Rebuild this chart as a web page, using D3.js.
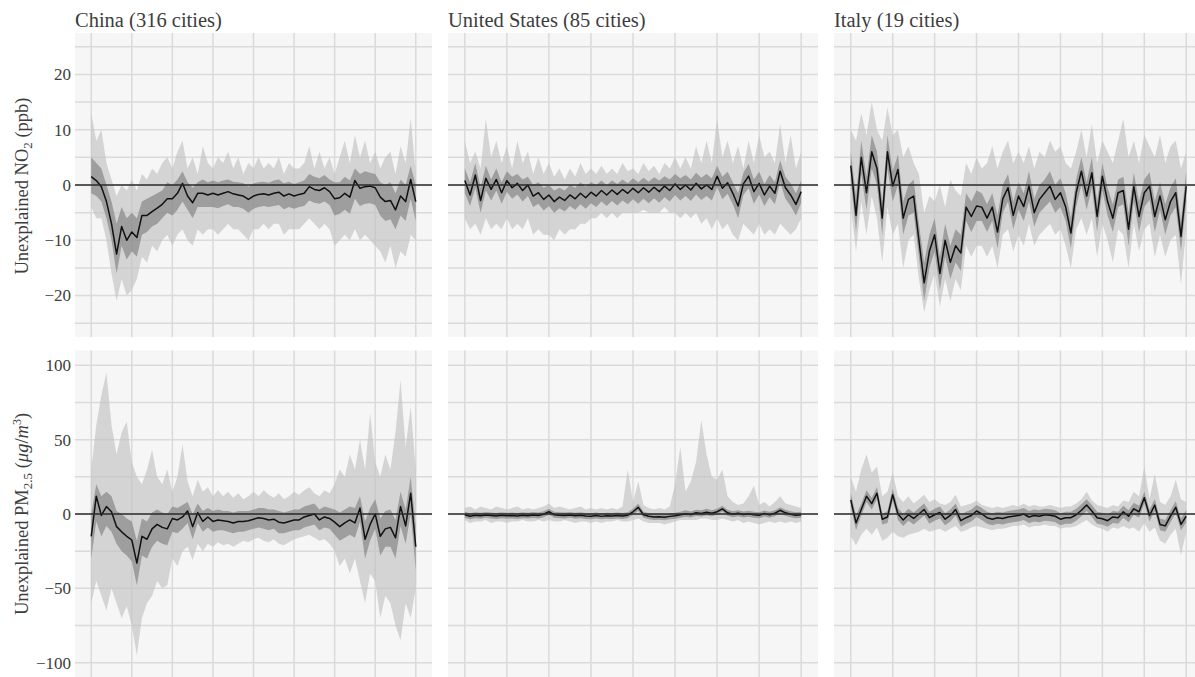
<!DOCTYPE html>
<html>
<head>
<meta charset="utf-8">
<script src="https://cdn.jsdelivr.net/npm/d3@7"></script>
<style>
  body { margin: 0; background: #fff; }
  text { font-family: "Liberation Serif", "DejaVu Serif", serif; fill: #3d3d3d; }
</style>
</head>
<body>
<div id="chart"></div>
<script>
// panel titles and tick labels
const countries = ["China (316 cities)", "United States (85 cities)", "Italy (19 cities)"];
const no2Ticks = [-20, -10, 0, 10, 20];
const pmTicks = [-100, -50, 0, 50, 100];
const no2Grid = [-25, -20, -15, -10, -5, 0, 5, 10, 15, 20, 25];
const pmGrid = [-100, -75, -50, -25, 0, 25, 50, 75, 100];
const timeGrid = [0, 1, 2, 3, 4, 5, 6, 7, 8];

// ---- NO2, China ----
const cnNo2Mean = [1.5,0.8,-0.3,-3,-7,-12.5,-7.5,-10,-8.5,-9.5,-5.5,-5.5,-4.8,-4.2,-3.5,-2.5,-2.5,-1.5,0.3,-2,-3.2,-1.5,-1.5,-1.8,-1.5,-1.8,-1.5,-1.2,-1.6,-1.8,-2,-2.6,-2,-1.7,-1.6,-1.8,-1.5,-1.3,-2,-1.6,-2,-1.7,-1.5,-0.3,-0.8,-1,-0.5,-1.2,-2.5,-2.3,-1.5,-2.2,0.8,-0.6,-0.3,-0.2,-0.5,-2.2,-3,-2.8,-4.5,-2,-3,1,-3];
const cnNo2Hi = [13,8,10,4,1,-2,0,-1,1,-1,2,1,3,2,4,5,3,6,8,3,5,2,7,4,3,5,4,6,3,5,2,4,3,5,3,4,3,5,2,4,3,3,4,7,3,6,3,5,2,5,8,4,9,5,8,4,6,3,5,6,2,7,4,12,2];
const cnNo2Lo = [-4,-6,-6,-10,-16,-21,-17,-20,-19,-17,-13,-14,-11,-12,-10,-9,-11,-9,-8,-10,-11,-8,-9,-8,-8,-9,-8,-7,-8,-8,-9,-10,-8,-8,-7,-8,-7,-7,-9,-8,-8,-8,-7,-6,-7,-8,-7,-8,-11,-10,-9,-10,-8,-10,-9,-10,-11,-12,-14,-11,-15,-12,-13,-9,-10];
const cnNo2InHi = [5,4,3,0,-3,-7,-4,-6,-5,-6,-3,-2.5,-2,-1.5,-1,0.5,0,1,2.5,0.5,-0.5,0.5,1,0.5,0.8,0.5,0.8,1,0.6,0.5,0.3,-0.3,0.3,0.5,0.6,0.4,0.8,1,0.3,0.6,0.2,0.5,0.8,2,1.5,1.2,1.8,1,0.5,0.5,1.5,0.8,3,2,2.5,2.2,2,0.5,0,0.5,-1.5,1,0,3.5,0];
const cnNo2InLo = [-1.5,-2,-3,-6,-10,-16,-11,-13.5,-12,-13,-9,-8.5,-7.5,-7,-6,-5,-5.5,-4.5,-3,-4.5,-6,-4,-4,-4,-4,-4.2,-3.8,-3.5,-4,-4,-4.3,-5,-4.3,-4,-3.8,-4,-3.8,-3.6,-4.4,-4,-4.3,-4,-3.8,-2.8,-3.2,-3.4,-3,-3.6,-5.5,-5.2,-4.5,-5.2,-2.5,-3.8,-3.4,-3.3,-3.6,-5.5,-6.5,-6.2,-8,-5.5,-6.5,-2.5,-6.5];

// ---- NO2, United States ----
const usNo2Mean = [0.8,-1.8,1.8,-2.8,1.2,-0.8,1.0,-1.4,0.8,-0.5,0.3,-1.0,0.0,-2.0,-1.4,-2.6,-1.8,-3.0,-2.2,-2.8,-1.8,-2.5,-1.5,-2.3,-1.3,-2.0,-1.0,-1.8,-0.9,-1.7,-0.8,-1.5,-0.6,-1.4,-0.5,-1.3,-0.4,-1.2,-0.2,-1.0,0.2,-0.8,0.0,-0.9,0.3,-0.7,0.0,-0.8,1.6,-0.6,0.4,-1.5,-3.8,0.2,1.6,-1.2,0.3,-1.8,-0.2,-1.5,2.5,-0.5,-1.8,-3.5,-1.2];
const usNo2Hi = [8,4,6,3,12,5,8,4,7,3,8,4,6,2,5,2,4,1.5,3,1,3,1.5,4,2,3,2,3.5,2,3,2,4,2.5,3,2,4,2.5,3.5,2,4,3,5,3,5,3,7,4,8,4,12,5,8,4,7,3,8,4,9,5,6,4,11,4,9,3,6];
const usNo2Lo = [-6,-8,-7,-9,-6,-8,-7,-8,-6,-8,-7,-8,-6,-9,-8,-9,-9,-10,-8,-9,-8,-8,-7,-7,-6,-6,-5,-6,-5,-6,-5,-5,-5,-5,-4.5,-5,-5,-5,-4,-5,-5,-6,-5,-6,-5,-7,-6,-8,-6,-8,-7,-9,-10,-7,-8,-9,-7,-9,-8,-9,-7,-8,-9,-8,-6];
const usNo2InHi = [3,0.5,4,-0.5,3.5,1,3,0.5,2.5,1.5,2,1,1.5,0,0.5,-0.5,0,-1,-0.5,-1,0,-0.5,0.5,-0.3,0.5,0,0.8,0,0.8,0.2,1,0.3,1.2,0.5,1.3,0.6,1.4,0.8,1.6,1,2,1.2,1.8,1,2.2,1.3,2,1.2,3.5,1.5,2.4,0.5,-1.5,2.2,3.8,1,2.4,0.2,1.8,0.5,4.5,1.5,0.3,-1.5,0.8];
const usNo2InLo = [-1.5,-3.8,-0.5,-5,-1,-2.8,-1,-3.4,-1.2,-2.5,-1.7,-3,-2,-4,-3.4,-4.6,-3.8,-5,-4.2,-4.8,-3.8,-4.5,-3.5,-4.3,-3.3,-4,-3,-3.8,-2.9,-3.7,-2.8,-3.5,-2.6,-3.4,-2.5,-3.3,-2.4,-3.2,-2.2,-3,-1.8,-2.8,-2,-2.9,-1.7,-2.7,-2,-2.8,-0.4,-2.6,-1.6,-3.5,-6,-1.8,-0.6,-3.4,-1.7,-3.8,-2.2,-3.5,0.5,-2.5,-3.8,-5.5,-3.2];

// ---- NO2, Italy ----
const itNo2Mean = [3.5,-5.5,5,-1.4,6,3,-6,6,-0.2,2.8,-6,-2.6,-2,-10,-17.7,-12,-9,-16,-10,-14,-11,-12.3,-4,-5.7,-3.8,-4,-6,-4,-8.5,-2.5,-0.5,-5.5,-2,-3.9,-0.2,-5,-2.6,-1.4,-0.2,-2.6,-1.4,-4,-8.7,-1.4,2.5,-2,2.2,-5.7,1.6,-3,-6,-1.4,-1,-8,-0.3,-5.7,-1.4,-0.2,-5.7,-2,-6.3,-3,-1.4,-9.3,-0.2];
const itNo2Hi = [10,8,13,9,15,10,8,14,9,10,5,7,4,2,-5,-2,-3,0,-4,1,-1,-2,4,2,5,3,4,7,3,6,8,4,6,4,7,3,6,5,8,6,7,4,3,6,10,5,11,4,8,6,4,8,12,5,8,4,9,7,5,9,4,7,8,3,6];
const itNo2Lo = [-4,-12,-3,-9,-2,-6,-14,-4,-9,-7,-15,-10,-9,-17,-23,-19,-16,-22,-17,-21,-17,-19,-11,-13,-11,-11,-13,-11,-15,-9,-8,-12,-9,-11,-7,-11,-9,-8,-7,-9,-8,-11,-15,-8,-6,-9,-6,-13,-7,-10,-14,-8,-9,-15,-7,-12,-8,-7,-13,-9,-13,-10,-9,-18,-8];
const itNo2InHi = [6,-2,8,1.5,9,6,-3,9,2.5,5.5,-3,0,1,-7,-14,-9,-6,-13,-7,-11,-8,-9,-1.5,-3,-1,-1.5,-3.5,-1.5,-5.5,0,2,-3,0.5,-1.5,2.5,-2.5,0,1,2.5,0,1.2,-1.5,-6,1,5,0.5,5,-3,4,-0.5,-3.5,1,1.5,-5,2.2,-3,1,2.3,-3,0.5,-3.5,-0.5,1.2,-6.5,2.5];
const itNo2InLo = [1,-8.5,2,-4.5,3,0,-9,3,-3,0,-9,-5.5,-5,-13,-21,-15,-12,-19,-13,-17,-14,-15.5,-6.5,-8.5,-6.5,-6.5,-8.5,-6.5,-11.5,-5,-3,-8,-4.5,-6.5,-3,-7.5,-5,-4,-3,-5,-4,-6.5,-11.5,-4,0,-4.5,-0.5,-8.5,-1,-5.5,-8.5,-4,-3.5,-11,-3,-8.5,-4,-2.7,-8.5,-4.5,-9,-5.5,-4,-12,-3];

// ---- PM2.5, China ----
const cnPmMean = [-15,12,-1,5,1.5,-8.5,-12,-15,-17.5,-33,-15,-17,-10,-7,-9,-10,-3,-4,-2,2,-8.5,1,-5,-2,-5,-4,-4.5,-5,-6,-5,-5,-4.5,-3.5,-2.5,-3,-4,-3.5,-5.5,-6,-5,-4,-4,-2,-1,0,-4,-2,-3,-5.5,-8.5,-6,-4,-6,4,-17,-7,0,-15,-10,-9,-16,5,-8,14,-22];
const cnPmHi = [30,60,80,95,60,40,55,62,35,25,20,30,43,25,20,30,15,25,47,22,12,23,15,18,12,16,12,15,11,14,10,12,15,12,16,13,11,14,10,12,15,13,16,18,14,12,16,14,20,30,25,40,30,50,30,68,35,25,40,30,55,90,45,72,30];
const cnPmLo = [-60,-45,-55,-65,-50,-60,-70,-62,-75,-95,-70,-60,-55,-45,-50,-48,-30,-35,-25,-22,-31,-20,-25,-20,-22,-19,-21,-20,-22,-20,-18,-19,-17,-16,-18,-19,-17,-20,-21,-19,-17,-16,-15,-14,-16,-18,-17,-20,-25,-35,-30,-40,-30,-45,-60,-40,-45,-70,-55,-60,-75,-85,-60,-70,-50];
const cnPmInHi = [0,20,12,15,12,2,0,-3,-5,-18,-3,-5,1,3,1,0,5,4,6,8,0,7,2,4,2,3,2,2,1,2,2,2,3,4,4,3,3,2,1,2,3,3,5,6,7,3,5,4,3,1,3,5,4,12,-5,4,10,-3,2,3,-4,15,3,25,-8];
const cnPmInLo = [-30,-5,-15,-8,-12,-20,-25,-28,-32,-48,-28,-30,-22,-18,-20,-21,-12,-13,-10,-6,-17,-6,-12,-9,-12,-11,-11,-12,-13,-12,-12,-11,-10,-9,-10,-11,-10,-13,-13,-12,-11,-11,-9,-8,-7,-11,-9,-10,-14,-18,-16,-14,-16,-5,-30,-18,-10,-28,-22,-22,-30,-8,-20,0,-38];

// ---- PM2.5, United States ----
const usPmMean = [-0.5,-1.5,-0.8,-1.2,-0.6,-1,-1.3,-0.8,-1.2,-1,-1.4,-0.9,-1.1,-0.7,-1,-0.2,1.5,-0.5,-0.8,-1,-0.6,-1.2,-0.8,-1.3,-1.5,-1,-1.6,-1.2,-1.4,-1,-1.3,-0.8,1.5,4.5,-0.5,-1.5,-2,-1.8,-2.2,-1.6,-1.2,-0.5,0.2,-0.3,0.8,0.3,1.2,0.5,1.5,3.5,0.8,-0.2,0.5,-0.3,0.2,-0.5,-0.8,0.3,-0.5,0.5,2.5,0.8,-0.2,-0.8,-0.5];
const usPmHi = [4,5,3,5,4,3,5,4,3,4,5,3,4,3,4,5,7,4,5,4,3,4,5,3,4,3,4,3,4,3,5,30,8,22,6,4,3,4,3,5,20,45,15,22,35,63,40,25,23,30,12,8,6,7,12,19,6,8,5,8,12,7,6,5,4];
const usPmLo = [-4,-6,-5,-5,-4,-6,-5,-5,-6,-5,-5,-4,-5,-5,-4,-5,-4,-5,-5,-4,-5,-6,-5,-5,-6,-5,-6,-5,-5,-4,-5,-5,-4,-3,-5,-6,-6,-6,-7,-6,-5,-4,-4,-4,-4,-3,-3,-4,-4,-3,-4,-5,-4,-6,-5,-6,-7,-6,-5,-6,-5,-6,-5,-6,-5];
const usPmInHi = [1.5,0.5,1.2,0.8,1.4,1,0.7,1.2,0.8,1,0.6,1.1,0.9,1.3,1,1.8,3.5,1.5,1.2,1,1.4,0.8,1.2,0.7,0.5,1,0.4,0.8,0.6,1,0.7,1.2,3.5,7,1.5,0.5,0,0.2,-0.2,0.4,0.8,1.5,2.5,1.7,2.8,2.5,3.5,2.5,3.5,5.5,2.8,1.8,2.5,1.7,2.2,1.5,1.2,2.3,1.5,2.5,4.5,2.8,1.8,1.2,1.5];
const usPmInLo = [-2.5,-3.5,-2.8,-3.2,-2.6,-3,-3.3,-2.8,-3.2,-3,-3.4,-2.9,-3.1,-2.7,-3,-2.2,-0.5,-2.5,-2.8,-3,-2.6,-3.2,-2.8,-3.3,-3.5,-3,-3.6,-3.2,-3.4,-3,-3.3,-2.8,-0.5,2,-2.5,-3.5,-4,-3.8,-4.2,-3.6,-3.2,-2.5,-1.8,-2.3,-1.2,-1.7,-0.8,-1.5,-0.5,1.5,-1.2,-2.2,-1.5,-2.3,-1.8,-2.5,-2.8,-1.7,-2.5,-1.5,0.5,-1.2,-2.2,-2.8,-2.5];

// ---- PM2.5, Italy ----
const itPmMean = [9.5,-6,3,12,7,14,-3.5,-2,13,0,-4,-0.5,-3,0,3,-2.5,-0.5,1,-3.5,-1,3,-4.5,-2.5,-1,2,0,-2.5,-3.5,-2.5,-3,-2,-1.5,-1,0,-2,-1,-1.5,-0.5,-0.8,-1.5,-3.5,-2.5,-2.5,-0.5,2.5,6,2,-2.5,-3.2,-4.5,-2,-2.5,1.5,-1.5,3.5,1.5,11,-1,6,-7,-8,-1.5,4.5,-7,-1.5];
const itPmHi = [25,15,30,40,28,32,12,15,28,12,8,12,7,10,13,8,10,7,6,8,13,5,6,7,9,6,5,4,5,4,5,6,5,7,5,6,5,5,6,5,4,5,5,7,10,15,9,6,5,4,6,5,9,8,15,12,32,10,27,8,6,12,23,10,8];
const itPmLo = [-15,-21,-14,-10,-14,-9,-18,-16,-12,-15,-16,-14,-13,-12,-10,-12,-11,-10,-12,-10,-8,-12,-11,-9,-8,-9,-10,-11,-10,-10,-9,-8,-8,-7,-9,-8,-8,-7,-8,-8,-10,-9,-9,-8,-6,-4,-7,-9,-10,-12,-9,-10,-8,-10,-9,-12,-6,-12,-9,-18,-20,-14,-10,-28,-12];
const itPmInHi = [14,-1,7,16,11,18,0,2,17,4,0,3.5,1,4,7,1.5,3.5,5,0.5,3,7,-0.5,1.5,3,6,4,1.5,0.5,1.5,1,2,2.5,3,4,2,3,2.5,3.5,3.2,2.5,0.5,1.5,1.5,3.5,6.5,10,6,1.5,0.8,-0.5,2,1.5,5.5,2.5,7.5,5.5,15,3,10,-3,-4,2.5,8.5,-3,2.5];
const itPmInLo = [5,-11,-1,8,3,10,-7,-6,9,-4,-8,-4.5,-7,-4,-1,-6.5,-4.5,-3,-7.5,-5,-1,-8.5,-6.5,-5,-2,-4,-6.5,-7.5,-6.5,-7,-6,-5.5,-5,-4,-6,-5,-5.5,-4.5,-4.8,-5.5,-7.5,-6.5,-6.5,-4.5,-1.5,2,-2,-6.5,-7.2,-8.5,-6,-6.5,-2.5,-5.5,-0.5,-2.5,7,-5,2,-11,-12,-5.5,0.5,-11,-5.5];

const panels = [
  { row: 0, col: 0, mean: cnNo2Mean, hi: cnNo2Hi, lo: cnNo2Lo, inHi: cnNo2InHi, inLo: cnNo2InLo },
  { row: 0, col: 1, mean: usNo2Mean, hi: usNo2Hi, lo: usNo2Lo, inHi: usNo2InHi, inLo: usNo2InLo },
  { row: 0, col: 2, mean: itNo2Mean, hi: itNo2Hi, lo: itNo2Lo, inHi: itNo2InHi, inLo: itNo2InLo },
  { row: 1, col: 0, mean: cnPmMean, hi: cnPmHi, lo: cnPmLo, inHi: cnPmInHi, inLo: cnPmInLo },
  { row: 1, col: 1, mean: usPmMean, hi: usPmHi, lo: usPmLo, inHi: usPmInHi, inLo: usPmInLo },
  { row: 1, col: 2, mean: itPmMean, hi: itPmHi, lo: itPmLo, inHi: itPmInHi, inLo: itPmInLo }
];

const svgWidth = 1195, svgHeight = 677;
const cols = [[75, 432], [448, 818], [834, 1203]];
const rows = [
  { top: 33, bottom: 337, domain: [-27.5, 27.5], grid: no2Grid, ticks: no2Ticks },
  { top: 350.5, bottom: 677.5, domain: [-110, 110], grid: pmGrid, ticks: pmTicks }
];

const svg = d3.select("#chart")
  .append("svg")
  .attr("width", svgWidth)
  .attr("height", svgHeight);

const fmt = d => d < 0 ? "\u2212" + Math.abs(d) : String(d);

panels.forEach((p, k) => {
  const c = cols[p.col], r = rows[p.row];
  const x = d3.scaleLinear().domain([-0.4, 8.4]).range(c);
  const y = d3.scaleLinear().domain(r.domain).range([r.bottom, r.top]);
  const g = svg.append("g");

  g.append("clipPath").attr("id", "clip" + k)
    .append("rect")
    .attr("x", c[0]).attr("y", r.top)
    .attr("width", c[1] - c[0]).attr("height", r.bottom - r.top);

  g.append("rect")
    .attr("x", c[0]).attr("y", r.top)
    .attr("width", c[1] - c[0]).attr("height", r.bottom - r.top)
    .attr("fill", "#f6f6f6");

  // grid
  g.selectAll(".hg").data(r.grid).enter().append("line")
    .attr("x1", c[0]).attr("x2", c[1])
    .attr("y1", d => y(d)).attr("y2", d => y(d))
    .attr("stroke", "#dadada").attr("stroke-width", 1.5);
  g.selectAll(".vg").data(timeGrid).enter().append("line")
    .attr("x1", d => x(d)).attr("x2", d => x(d))
    .attr("y1", r.top).attr("y2", r.bottom)
    .attr("stroke", "#dadada").attr("stroke-width", 1.5);

  const plot = g.append("g").attr("clip-path", `url(#clip${k})`);
  const tx = (arr, i) => x(i * 8 / (arr.length - 1));

  const outer = d3.area()
    .x(i => tx(p.lo, i))
    .y0(i => y(p.lo[i]))
    .y1(i => y(p.hi[i]));
  plot.append("path")
    .attr("d", outer(d3.range(p.lo.length)))
    .attr("fill", "#c2c2c2").attr("fill-opacity", 0.65);

  const inner = d3.area()
    .x(i => tx(p.inLo, i))
    .y0(i => y(p.inLo[i]))
    .y1(i => y(p.inHi[i]));
  plot.append("path")
    .attr("d", inner(d3.range(p.inLo.length)))
    .attr("fill", "#7a7a7a").attr("fill-opacity", 0.6);

  g.append("line")
    .attr("x1", c[0]).attr("x2", c[1])
    .attr("y1", y(0)).attr("y2", y(0))
    .attr("stroke", "#2a2a2a").attr("stroke-width", 1.6);

  const line = d3.line()
    .x((d, i) => tx(p.mean, i))
    .y(d => y(d));
  plot.append("path")
    .attr("d", line(p.mean))
    .attr("fill", "none")
    .attr("stroke", "#111")
    .attr("stroke-width", 1.5)
    .attr("stroke-linejoin", "round");

  if (p.col === 0) {
    const ax = svg.append("g")
      .attr("transform", `translate(${c[0]},0)`)
      .call(d3.axisLeft(y).tickValues(r.ticks).tickSize(0).tickPadding(4).tickFormat(fmt));
    ax.select(".domain").remove();
    ax.selectAll("text")
      .style("font-family", '"Liberation Serif", serif')
      .style("font-size", "17px")
      .attr("fill", "#3d3d3d");
  }

  if (p.row === 0) {
    svg.append("text")
      .attr("x", c[0])
      .attr("y", 27)
      .style("font-size", "20.5px")
      .text(countries[p.col]);
  }
});

// y axis titles
const t1 = svg.append("text")
  .attr("transform", "translate(28,186) rotate(-90)")
  .attr("text-anchor", "middle")
  .style("font-size", "18.5px");
t1.append("tspan").text("Unexplained NO");
t1.append("tspan").attr("dy", 4).style("font-size", "13px").text("2");
t1.append("tspan").attr("dy", -4).text(" (ppb)");

const t2 = svg.append("text")
  .attr("transform", "translate(28,514) rotate(-90)")
  .attr("text-anchor", "middle")
  .style("font-size", "18.5px");
t2.append("tspan").text("Unexplained PM");
t2.append("tspan").attr("dy", 4).style("font-size", "13px").text("2.5");
t2.append("tspan").attr("dy", -4).text(" (");
t2.append("tspan").style("font-style", "italic").text("\u03bcg");
t2.append("tspan").text("/");
t2.append("tspan").style("font-style", "italic").text("m");
t2.append("tspan").attr("dy", -7).style("font-size", "12px").text("3");
t2.append("tspan").attr("dy", 7).text(")");
</script>
</body>
</html>
